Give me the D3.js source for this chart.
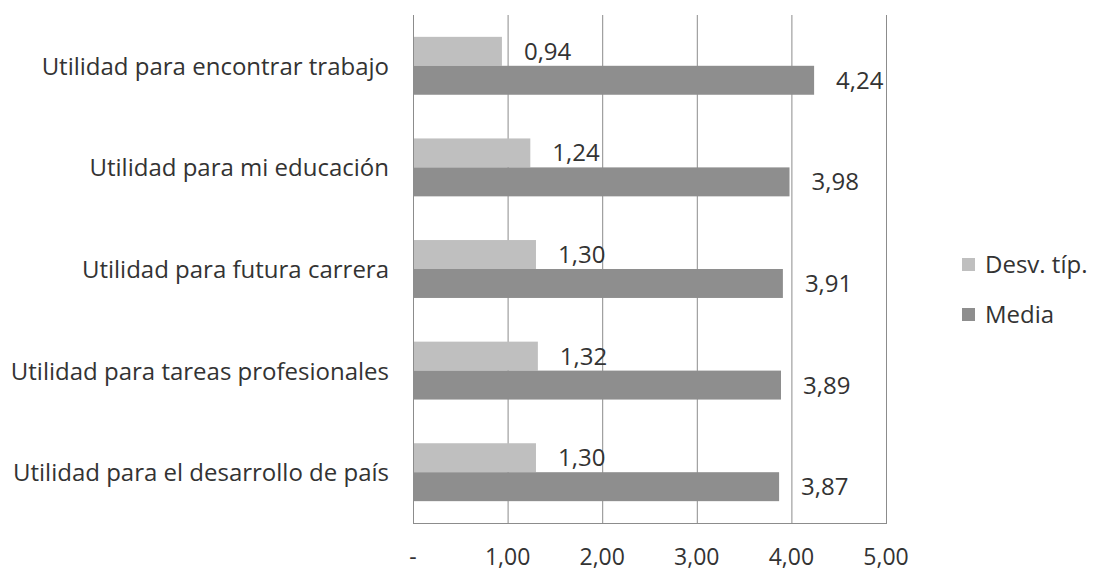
<!DOCTYPE html>
<html><head><meta charset="utf-8">
<script src="https://cdn.jsdelivr.net/npm/d3@7"></script>
<style>body{margin:0;background:#fff}svg{display:block}</style>
</head><body>
<svg id="c" width="1093" height="572"></svg>
<script>
const categories = ["Utilidad para encontrar trabajo","Utilidad para mi educación","Utilidad para futura carrera","Utilidad para tareas profesionales","Utilidad para el desarrollo de país"];
const desvValues = [0.94, 1.24, 1.30, 1.32, 1.30];
const mediaValues = [4.24, 3.98, 3.91, 3.89, 3.87];
const tickValues = [0, 1, 2, 3, 4, 5];
const tickLabels = ["-", "1,00", "2,00", "3,00", "4,00", "5,00"];
const seriesNames = ["Desv. típ.", "Media"];

const svg = d3.select("#c");
const font = "'Open Sans', sans-serif";
const textColor = "#333333";
const colors = {"Desv. típ.": "#bfbfbf", "Media": "#8e8e8e"};
const L = 413, R = 886, T = 15, B = 523;
const FS = 24;

const x = d3.scaleLinear().domain([0, 5]).range([L, R]);
const y = d3.scaleBand().domain(categories).range([T, B]).paddingInner(0.43).paddingOuter(0.215);
const ys = d3.scaleBand().domain(seriesNames).range([0, y.bandwidth()]);

// gridlines
svg.append("g").selectAll("line").data(tickValues).join("line")
  .attr("x1", d => x(d) + 0.5).attr("x2", d => x(d) + 0.5)
  .attr("y1", T).attr("y2", B)
  .attr("stroke", "#8c8c8c").attr("stroke-width", 1);
// bottom axis line
svg.append("line").attr("x1", L).attr("x2", R + 1).attr("y1", B + 0.5).attr("y2", B + 0.5)
  .attr("stroke", "#8c8c8c");

const rows = categories.map((c, i) => ({c, vals: [{s: "Desv. típ.", v: desvValues[i]}, {s: "Media", v: mediaValues[i]}]}));
const fmt = v => v.toFixed(2).replace(".", ",");

const g = svg.append("g").selectAll("g").data(rows).join("g")
  .attr("transform", d => `translate(0,${y(d.c)})`);
g.selectAll("rect").data(d => d.vals).join("rect")
  .attr("x", x(0) + 1).attr("y", d => ys(d.s))
  .attr("width", d => x(d.v) - x(0) - 1).attr("height", ys.bandwidth())
  .attr("fill", d => colors[d.s]);
g.selectAll("text").data(d => d.vals).join("text")
  .attr("x", d => x(d.v) + 22).attr("y", d => ys(d.s) + ys.bandwidth() / 2 + 8.5)
  .attr("font-family", font).attr("font-size", FS).attr("fill", textColor)
  .text(d => fmt(d.v));

// category labels
svg.append("g").selectAll("text").data(categories).join("text")
  .attr("x", 389).attr("y", d => y(d) + y.bandwidth() / 2 + 9)
  .attr("text-anchor", "end")
  .attr("font-family", font).attr("font-size", FS).attr("fill", textColor)
  .text(d => d);

// x tick labels
svg.append("g").selectAll("text").data(tickValues).join("text")
  .attr("x", d => x(d)).attr("y", 565)
  .attr("text-anchor", "middle")
  .attr("font-family", font).attr("font-size", 23).attr("fill", textColor)
  .text((d, i) => tickLabels[i]);

// legend
const lg = svg.append("g").selectAll("g").data(seriesNames).join("g")
  .attr("transform", (d, i) => `translate(962,${258 + i * 50})`);
lg.append("rect").attr("width", 13).attr("height", 13).attr("fill", d => colors[d]);
lg.append("text").attr("x", 23).attr("y", 15)
  .attr("font-family", font).attr("font-size", FS).attr("fill", textColor).text(d => d);
</script>
</body></html>
